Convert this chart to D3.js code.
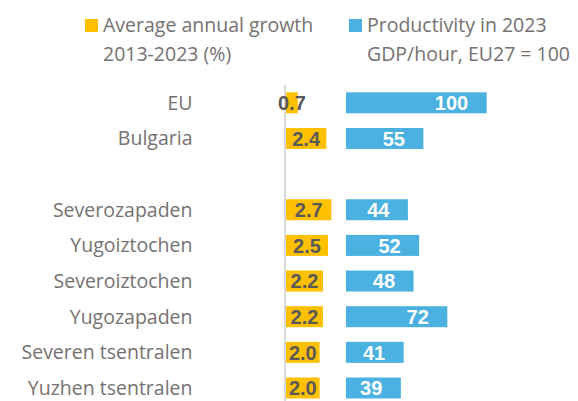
<!DOCTYPE html>
<html>
<head>
<meta charset="utf-8">
<script src="https://cdn.jsdelivr.net/npm/d3@7"></script>
<style>
  html, body { margin: 0; padding: 0; background: #fff; }
  svg { display: block; }
</style>
</head>
<body>
<svg id="chart" width="578" height="401"></svg>
<script>
const categories = ["EU", "Bulgaria", "", "Severozapaden", "Yugoiztochen", "Severoiztochen", "Yugozapaden", "Severen tsentralen", "Yuzhen tsentralen"];
const growth = [0.7, 2.4, null, 2.7, 2.5, 2.2, 2.2, 2.0, 2.0];
const productivity = [100, 55, null, 44, 52, 48, 72, 41, 39];
const legendGrowth = ["Average annual growth", "2013-2023 (%)"];
const legendProd = ["Productivity in 2023", "GDP/hour, EU27 = 100"];

const gold = "#FFC000", blue = "#4BB1E0";
const labelColor = "#767171", valueDark = "#595959";
const catFont = "'Open Sans', 'DejaVu Sans', sans-serif";
const valFont = "'Liberation Sans', Arial, sans-serif";

const svg = d3.select("#chart");

const y = d3.scalePoint().domain(d3.range(categories.length)).range([102.8, 388]);
const xG = d3.scaleLinear().domain([0, 3]).range([286, 336.4]);
const xB = d3.scaleLinear().domain([0, 100]).range([346, 486.7]);
const barH = 21;

// axis line
svg.append("line")
  .attr("x1", 285).attr("x2", 285).attr("y1", 85).attr("y2", 401)
  .attr("stroke", "#d9d9d9").attr("stroke-width", 2);

const rows = categories.map((c, i) => ({ c, i, g: growth[i], p: productivity[i] }));

// category labels
svg.append("g").selectAll("text").data(rows).join("text")
  .attr("x", 192.5).attr("y", d => y(d.i)).attr("dy", "0.36em")
  .attr("text-anchor", "end")
  .attr("font-family", catFont).attr("font-size", 19.5)
  .attr("fill", labelColor)
  .text(d => d.c);

const gRows = rows.filter(d => d.g != null);

// growth bars
svg.append("g").selectAll("rect").data(gRows).join("rect")
  .attr("x", xG(0)).attr("y", d => y(d.i) - barH / 2)
  .attr("width", d => xG(d.g) - xG(0)).attr("height", barH)
  .attr("fill", gold);

svg.append("g").selectAll("text").data(gRows).join("text")
  .attr("x", d => (xG(0) + xG(d.g)) / 2).attr("y", d => y(d.i)).attr("dy", "0.36em")
  .attr("text-anchor", "middle")
  .attr("font-family", valFont).attr("font-weight", "bold").attr("font-size", 20)
  .attr("fill", valueDark)
  .text(d => d.g.toFixed(1));

// productivity bars
svg.append("g").selectAll("rect").data(gRows).join("rect")
  .attr("x", xB(0)).attr("y", d => y(d.i) - barH / 2)
  .attr("width", d => xB(d.p) - xB(0)).attr("height", barH)
  .attr("fill", blue);

svg.append("g").selectAll("text").data(gRows).join("text")
  .attr("x", d => xB(d.p) - 18.5).attr("y", d => y(d.i)).attr("dy", "0.36em")
  .attr("text-anchor", "end")
  .attr("font-family", valFont).attr("font-weight", "bold").attr("font-size", 20)
  .attr("fill", "#ffffff")
  .text(d => d.p);

// legend
const legend = [
  { x: 85, color: gold, lines: legendGrowth },
  { x: 349, color: blue, lines: legendProd }
];
const lg = svg.append("g").selectAll("g").data(legend).join("g");
lg.append("rect").attr("x", d => d.x).attr("y", 19).attr("width", 13).attr("height", 13)
  .attr("fill", d => d.color);
lg.each(function(d) {
  d3.select(this).selectAll("text").data(d.lines).join("text")
    .attr("x", d.x + 18).attr("y", (t, j) => 32 + j * 29)
    .attr("font-family", catFont).attr("font-size", 19.5)
    .attr("fill", labelColor)
    .text(t => t);
});
</script>
</body>
</html>
